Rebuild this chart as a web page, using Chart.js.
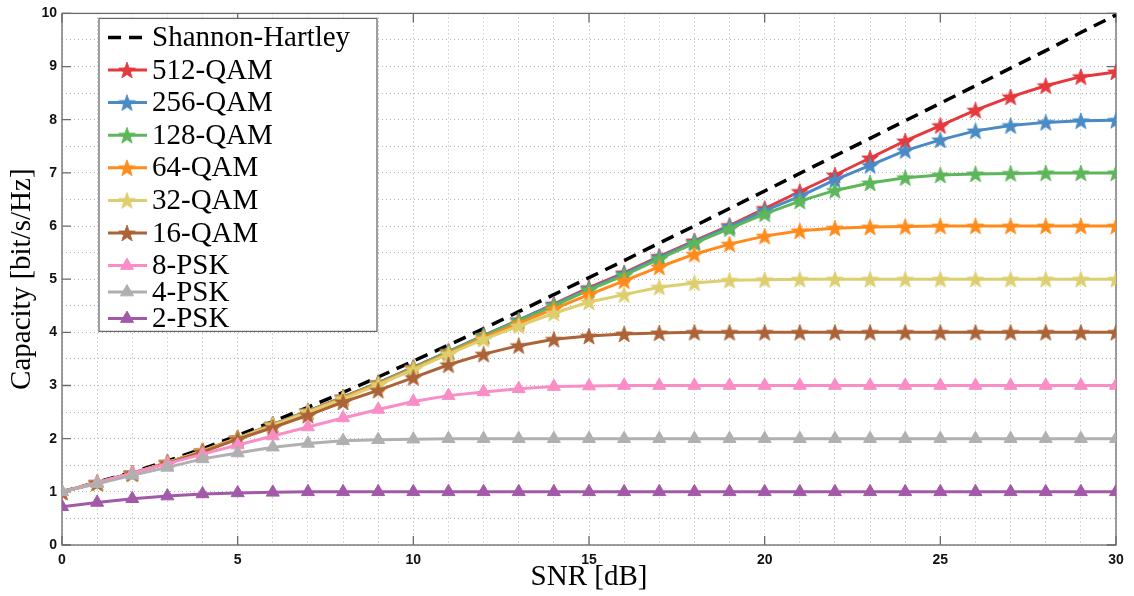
<!DOCTYPE html>
<html>
<head>
<meta charset="utf-8">
<script src="https://cdn.jsdelivr.net/npm/chart.js@4.4.1/dist/chart.umd.min.js"></script>
<style>
  html, body { margin: 0; padding: 0; background: #fff; }
  #wrap { width: 1134px; height: 596px; }
</style>
</head>
<body>
<div id="wrap"><canvas id="cap" width="1134" height="596"></canvas></div>
<script>
// SNR in dB, 0..30
const snr = [0,1,2,3,4,5,6,7,8,9,10,11,12,13,14,15,16,17,18,19,20,21,22,23,24,25,26,27,28,29,30];

// capacity values [bit/s/Hz]
const shannon = [1.00,1.18,1.37,1.58,1.81,2.06,2.32,2.59,2.87,3.16,3.46,3.76,4.07,4.39,4.71,5.03,5.35,5.68,6.00,6.33,6.66,6.99,7.32,7.65,7.98,8.31,8.64,8.97,9.30,9.64,9.97];
const qam512 = [1.00,1.17,1.35,1.55,1.77,2.01,2.27,2.52,2.78,3.05,3.34,3.64,3.94,4.23,4.53,4.84,5.12,5.43,5.72,6.01,6.33,6.65,6.96,7.28,7.60,7.89,8.18,8.43,8.64,8.81,8.90];
const qam256 = [1.00,1.17,1.35,1.55,1.77,2.01,2.27,2.52,2.78,3.05,3.34,3.64,3.94,4.23,4.52,4.82,5.10,5.41,5.70,5.99,6.29,6.56,6.87,7.14,7.42,7.62,7.79,7.89,7.95,7.98,7.99];
const qam128 = [1.00,1.17,1.35,1.55,1.77,2.01,2.26,2.51,2.77,3.04,3.33,3.63,3.93,4.21,4.50,4.80,5.07,5.38,5.68,5.95,6.23,6.47,6.67,6.81,6.91,6.96,6.98,6.99,7.00,7.00,7.00];
const qam64  = [1.00,1.17,1.35,1.55,1.77,2.01,2.26,2.51,2.77,3.03,3.32,3.61,3.90,4.17,4.44,4.71,4.97,5.23,5.47,5.66,5.81,5.91,5.96,5.98,5.99,6.00,6.00,6.00,6.00,6.00,6.00];
const qam32  = [1.00,1.17,1.35,1.55,1.76,2.00,2.25,2.50,2.75,3.01,3.30,3.59,3.87,4.12,4.36,4.57,4.71,4.85,4.93,4.98,4.99,5.00,5.00,5.00,5.00,5.00,5.00,5.00,5.00,5.00,5.00];
const qam16  = [1.00,1.17,1.35,1.54,1.75,1.99,2.21,2.44,2.69,2.91,3.15,3.39,3.59,3.75,3.87,3.93,3.97,3.99,4.00,4.00,4.00,4.00,4.00,4.00,4.00,4.00,4.00,4.00,4.00,4.00,4.00];
const psk8   = [1.00,1.17,1.35,1.53,1.71,1.88,2.05,2.22,2.39,2.55,2.70,2.81,2.88,2.94,2.98,2.99,3.00,3.00,3.00,3.00,3.00,3.00,3.00,3.00,3.00,3.00,3.00,3.00,3.00,3.00,3.00];
const psk4   = [1.00,1.15,1.31,1.46,1.62,1.73,1.84,1.91,1.96,1.98,1.99,2.00,2.00,2.00,2.00,2.00,2.00,2.00,2.00,2.00,2.00,2.00,2.00,2.00,2.00,2.00,2.00,2.00,2.00,2.00,2.00];
const psk2   = [0.72,0.80,0.87,0.92,0.96,0.98,0.99,1.00,1.00,1.00,1.00,1.00,1.00,1.00,1.00,1.00,1.00,1.00,1.00,1.00,1.00,1.00,1.00,1.00,1.00,1.00,1.00,1.00,1.00,1.00,1.00];

const SERIF = '"Liberation Serif", "Times New Roman", serif';
const SANS = '"Liberation Sans", Arial, sans-serif';

// filled five-point star, Chart.js's own 'star' is just an asterisk
function starImg(color) {
  const c = document.createElement('canvas');
  c.width = 20; c.height = 20;
  const g = c.getContext('2d');
  g.beginPath();
  for (let i = 0; i < 10; i++) {
    const r = i % 2 ? 3.6 : 8.8;
    const a = -Math.PI / 2 + i * Math.PI / 5;
    g.lineTo(10 + r * Math.cos(a), 10.8 + r * Math.sin(a));
  }
  g.closePath();
  g.fillStyle = color;
  g.fill();
  g.lineWidth = 0.8;
  g.strokeStyle = color;
  g.stroke();
  return c;
}

const pts = arr => snr.map((x, i) => ({ x, y: arr[i] }));

function series(label, data, color, marker) {
  const star = marker === 'star';
  return {
    label,
    data: pts(data),
    borderColor: color,
    backgroundColor: color,
    borderWidth: 3,
    pointStyle: star ? starImg(color) : 'triangle',
    pointRadius: star ? 10 : 7.5,
    pointBorderWidth: 1,
    pointBorderColor: color,
    pointBackgroundColor: color,
    tension: 0
  };
}

const datasets = [
  {
    label: 'Shannon-Hartley',
    data: pts(shannon),
    borderColor: '#000',
    backgroundColor: '#000',
    borderWidth: 3.5,
    borderDash: [13, 8],
    pointRadius: 0,
    tension: 0
  },
  series('512-QAM', qam512, '#e5393d', 'star'),
  series('256-QAM', qam256, '#4a8bc5', 'star'),
  series('128-QAM', qam128, '#5db75a', 'star'),
  series('64-QAM', qam64, '#ff8b1c', 'star'),
  series('32-QAM', qam32, '#ddcf6f', 'star'),
  series('16-QAM', qam16, '#ac6337', 'star'),
  series('8-PSK', psk8, '#f98dc5', 'tri'),
  series('4-PSK', psk4, '#b0b0b0', 'tri'),
  series('2-PSK', psk2, '#a25aa8', 'tri')
];
// later curves sit on top, like the matlab plot order
datasets.forEach((d, i) => { d.order = datasets.length - i; });

// box around the plot plus inward major ticks
const framePlugin = {
  id: 'frame',
  beforeDatasetsDraw(chart) {
    const { ctx, chartArea: a, scales } = chart;
    ctx.save();
    ctx.strokeStyle = '#6a6a6a';
    ctx.lineWidth = 1.3;
    ctx.strokeRect(a.left, a.top, a.right - a.left, a.bottom - a.top);
    ctx.beginPath();
    for (let v = 0; v <= 30; v += 5) {
      const px = scales.x.getPixelForValue(v);
      ctx.moveTo(px, a.bottom); ctx.lineTo(px, a.bottom - 9);
      ctx.moveTo(px, a.top); ctx.lineTo(px, a.top + 9);
    }
    for (let v = 0; v <= 10; v++) {
      const py = scales.y.getPixelForValue(v);
      ctx.moveTo(a.left, py); ctx.lineTo(a.left + 9, py);
      ctx.moveTo(a.right, py); ctx.lineTo(a.right - 9, py);
    }
    ctx.stroke();
    ctx.restore();
  }
};

// matlab style legend box in the upper left corner
const legendPlugin = {
  id: 'boxLegend',
  afterDatasetsDraw(chart) {
    const { ctx, chartArea: a } = chart;
    const x0 = a.left + 37, y0 = a.top + 5, w = 278, h = 313;
    ctx.save();
    ctx.fillStyle = '#fff';
    ctx.fillRect(x0, y0, w, h);
    ctx.strokeStyle = '#6a6a6a';
    ctx.lineWidth = 1.3;
    ctx.strokeRect(x0, y0, w, h);

    let y = y0 + 19;
    chart.data.datasets.forEach((d, i) => {
      if (i > 0) y += /[Qygjpq]/.test(chart.data.datasets[i - 1].label) ? 32.6 : 26.5;
      ctx.save();
      ctx.strokeStyle = d.borderColor;
      ctx.lineWidth = d.borderWidth;
      ctx.setLineDash(d.borderDash || []);
      ctx.beginPath();
      ctx.moveTo(x0 + 9, y); ctx.lineTo(x0 + 48, y);
      ctx.stroke();
      ctx.setLineDash([]);
      if (d.pointRadius) {
        ctx.fillStyle = d.pointBackgroundColor;
        ctx.strokeStyle = d.pointBorderColor;
        ctx.lineWidth = d.pointBorderWidth;
        Chart.helpers.drawPoint(ctx, { pointStyle: d.pointStyle, radius: d.pointRadius, rotation: 0, borderWidth: d.pointBorderWidth }, x0 + 28, y);
      }
      ctx.restore();
      ctx.fillStyle = '#000';
      ctx.font = '29px ' + SERIF;
      ctx.textBaseline = 'middle';
      ctx.fillText(d.label, x0 + 53, y + 1);
    });
    ctx.restore();
  }
};

new Chart(document.getElementById('cap'), {
  type: 'line',
  data: { datasets },
  options: {
    responsive: false,
    animation: false,
    layout: { padding: { top: 9, right: 18, left: 0, bottom: 0 } },
    plugins: { legend: { display: false }, tooltip: { enabled: false } },
    scales: {
      x: {
        type: 'linear',
        min: 0, max: 30,
        afterFit: s => { s.height = 51; },
        ticks: {
          stepSize: 1, autoSkip: false, maxRotation: 0, padding: 7,
          color: '#111', font: { family: SANS, size: 14, weight: 'bold' },
          callback: v => (v % 5 === 0 ? v : '')
        },
        grid: { color: '#b4b4b4', lineWidth: 1, drawTicks: false },
        border: { display: false, dash: [1, 3] },
        title: { display: true, text: 'SNR [dB]', color: '#000', font: { family: SERIF, size: 29 }, padding: { top: 0, bottom: 1 } }
      },
      y: {
        min: 0, max: 10,
        afterFit: s => { s.width = 62; },
        ticks: {
          stepSize: 0.5, autoSkip: false, padding: 5,
          color: '#111', font: { family: SANS, size: 14, weight: 'bold' },
          callback: v => (Number.isInteger(v) ? v : '')
        },
        grid: { color: '#b4b4b4', lineWidth: 1, drawTicks: false },
        border: { display: false, dash: [1, 3] },
        title: { display: true, text: 'Capacity [bit/s/Hz]', color: '#000', font: { family: SERIF, size: 29 }, padding: { top: 5, bottom: 0 } }
      }
    }
  },
  plugins: [framePlugin, legendPlugin]
});
</script>
</body>
</html>
